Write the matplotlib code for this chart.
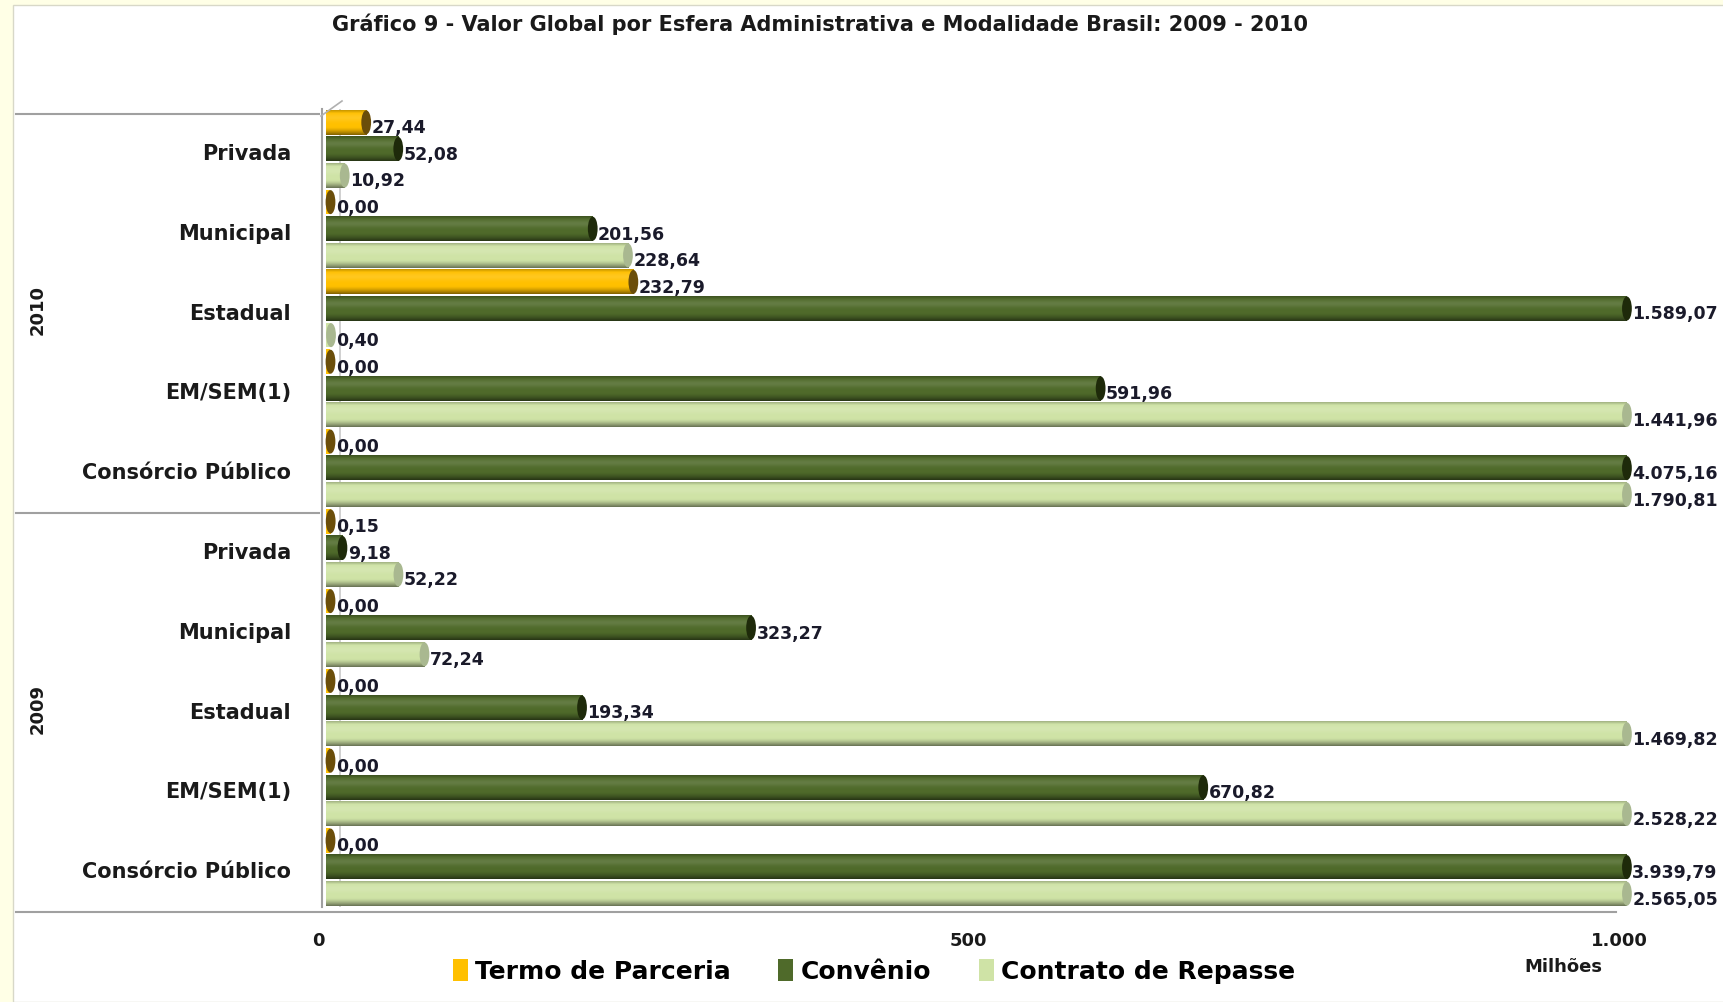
import numpy as np
import matplotlib
matplotlib.use('Agg')
import matplotlib.pyplot as plt
from matplotlib.patches import Ellipse, Patch, Rectangle
from matplotlib.lines import Line2D
from matplotlib.colors import to_rgb
from matplotlib import transforms

# Dados (milhões de R$) - ordem de cima para baixo
anos = ['2010', '2009']
esferas = ['Privada', 'Municipal', 'Estadual', 'EM/SEM(1)', 'Consórcio Público']
series = ['Termo de Parceria', 'Convênio', 'Contrato de Repasse']

termo_2010 = [27.44, 0.00, 232.79, 0.00, 0.00]
convenio_2010 = [52.08, 201.56, 1589.07, 591.96, 4075.16]
contrato_2010 = [10.92, 228.64, 0.40, 1441.96, 1790.81]

termo_2009 = [0.15, 0.00, 0.00, 0.00, 0.00]
convenio_2009 = [9.18, 323.27, 193.34, 670.82, 3939.79]
contrato_2009 = [52.22, 72.24, 1469.82, 2528.22, 2565.05]

xticks = [0, 500, 1000]
xtick_labels = ['0', '500', '1.000']

cores = {'Termo de Parceria': '#FFC000', 'Convênio': '#4F6A2A', 'Contrato de Repasse': '#CFE3A6'}
cores_tampa = {'Termo de Parceria': '#6B4E0A', 'Convênio': '#1E2A0A', 'Contrato de Repasse': '#A9B890'}

dados = {
  '2010': [termo_2010, convenio_2010, contrato_2010],
  '2009': [termo_2009, convenio_2009, contrato_2009],
}

XMAX = 1000


def fmt_br(v):
  return f'{v:,.2f}'.replace(',', 'X').replace('.', ',').replace('X', '.')


def gradiente(base, n=64):
  # cilindro: topo levemente escuro, brilho suave, base escura
  t = np.linspace(0, 1, n)
  rgb = np.array(to_rgb(base))
  escuro = 0.5 * np.clip((t - 0.68) / 0.32, 0, 1) ** 1.4 + 0.22 * np.clip((0.12 - t) / 0.12, 0, 1)
  luz = 0.12 * np.exp(-((t - 0.3) / 0.15) ** 2)
  col = rgb + (1 - rgb) * luz[:, None]
  col = col * (1 - escuro[:, None])
  return np.clip(col, 0, 1).reshape(n, 1, 3)


fig = plt.figure(figsize=(17.24, 10.03), dpi=100, facecolor='#FFFFE6')
fig.add_artist(Rectangle((13 / 1724, 0), 1, 1 - 6 / 1003, transform=fig.transFigure,
                         facecolor='white', edgecolor='#D8D8C8', lw=1, zorder=0))

ax = fig.add_axes([0.1868, 0.0947, 0.7569, 0.7956])
ax.set_facecolor('none')

# parede do fundo (efeito 3D)
ax.axvline(11, color='#C8C8C8', lw=1.2, zorder=1)

altura = 0.92
cap_w = 7.5
cap_dx = 3.5
pos = 0
centros_cat = []
for ano in anos:
  for i, esfera in enumerate(esferas):
    centros_cat.append((pos + 1, esfera))
    for s, nome in enumerate(series):
      v = dados[ano][s][i]
      fim = min(v + cap_dx, XMAX)
      ax.barh(pos, fim, height=altura, color=cores[nome], edgecolor='none', zorder=2)
      if v > 0.5:
        ax.imshow(gradiente(cores[nome]), extent=(0, fim, pos + altura / 2, pos - altura / 2),
                  aspect='auto', origin='upper', zorder=3, interpolation='bilinear')
      cor_cap = cores_tampa['Termo de Parceria'] if v < 1 and nome != 'Contrato de Repasse' else cores_tampa[nome]
      ax.add_patch(Ellipse((fim, pos), cap_w, altura * 0.98, facecolor=cor_cap,
                           edgecolor='none', zorder=4, clip_on=False))
      ax.text(fim + cap_w * 0.55, pos + 0.18, fmt_br(v), ha='left', va='center',
              fontsize=12.5, fontweight='bold', color='#1a1a2a', zorder=5)
      pos += 1

ax.set_xlim(-3, XMAX)
ax.set_ylim(pos - 0.5, -0.5)
ax.set_yticks([])
ax.set_xticks(xticks)
ax.set_xticklabels(xtick_labels, fontsize=13, fontweight='bold', color='#1a1a1a')
ax.tick_params(axis='x', length=0, pad=17)
for lab in ax.get_xticklabels():
  lab.set_transform(lab.get_transform() + transforms.ScaledTranslation(-0.08, 0, fig.dpi_scale_trans))
for sp in ['top', 'right', 'bottom']:
  ax.spines[sp].set_visible(False)
ax.spines['left'].set_color('#A0A0A0')
ax.spines['left'].set_linewidth(1.5)

mix = transforms.blended_transform_factory(fig.transFigure, ax.transData)

# rotulos das esferas e dos anos
for y, esfera in centros_cat:
  fig.text(291 / 1724, y + 0.15, esfera, ha='right', va='center', fontsize=15, fontweight='bold',
           color='#1a1a1a', transform=mix)

for k, ano in enumerate(anos):
  fig.text(38 / 1724, 7 + 15 * k, ano, rotation=90, ha='center', va='center',
           fontsize=13, fontweight='bold', color='#1a1a1a', transform=mix)

# linhas de separacao e piso
for y, x1 in [(-0.3, 319 / 1724), (14.7, 319 / 1724), (29.7, 1616 / 1724)]:
  fig.add_artist(Line2D([16 / 1724, x1], [y, y], transform=mix, color='#A0A0A0', lw=1.5))
fig.add_artist(Line2D([321 / 1724, 342 / 1724], [1 - 117 / 1003, 1 - 102 / 1003],
                      transform=fig.transFigure, color='#B0B0B0', lw=1.2))

fig.text(0.4757, 0.976, 'Gráfico 9 - Valor Global por Esfera Administrativa e Modalidade Brasil: 2009 - 2010',
         ha='center', va='center', fontsize=15, fontweight='bold', color='#1a1a1a')
fig.text(0.9067, 0.0354, 'Milhões', ha='center', va='center', fontsize=13, fontweight='bold', color='#1a1a1a')

handles = [Patch(facecolor=cores[n], edgecolor='none', label=n) for n in series]
fig.legend(handles=handles, loc='center', bbox_to_anchor=(0.507, 0.031), ncol=3, frameon=False,
           prop={'size': 18, 'weight': 'bold'}, handlelength=0.6, handleheight=1.0,
           handletextpad=0.3, columnspacing=1.9)

fig.savefig('out.png', dpi=100, facecolor=fig.get_facecolor())
